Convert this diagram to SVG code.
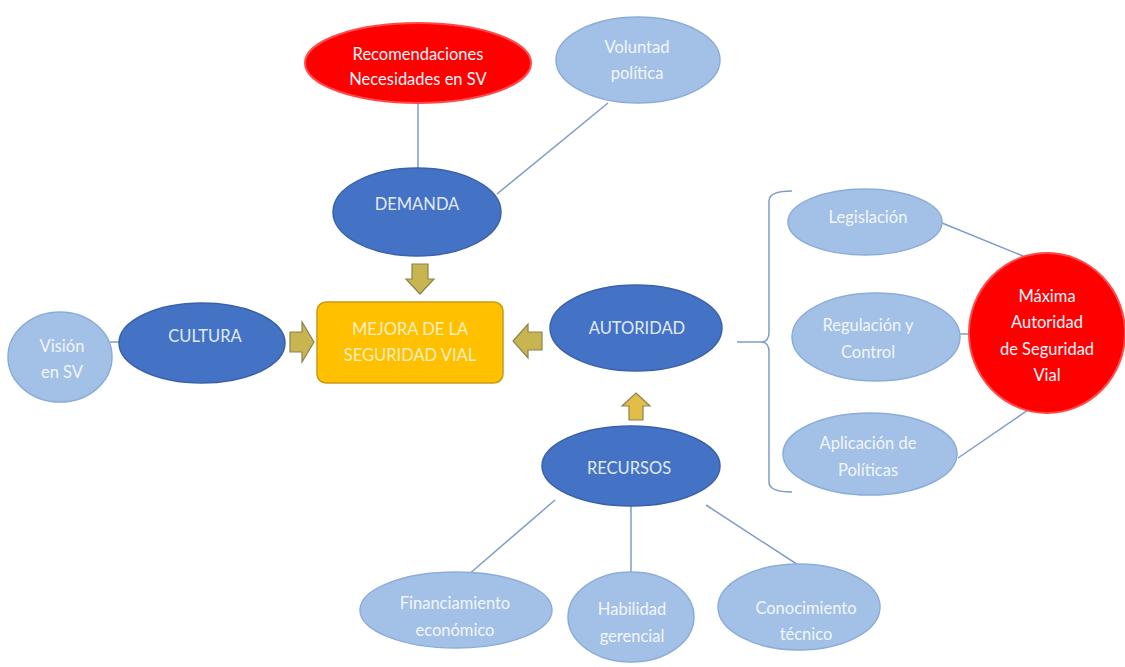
<svg xmlns="http://www.w3.org/2000/svg" width="1125" height="667" viewBox="0 0 1125 667">
<style>
text{font-family:"Lato","Liberation Sans",sans-serif;font-size:16.5px;text-anchor:middle;dominant-baseline:central}
.dark{fill:#4472C4;stroke:#3A62AA;stroke-width:1.5}
.light{fill:#A3C1E6;stroke:#8BADD9;stroke-width:1.5}
.red{fill:#FF0000;stroke:#FF4A4A;stroke-width:2}
.tw{fill:#E0EAF6}
.tl{fill:#F2F6FC}
.ln{stroke:#7F9CC8;stroke-width:1.5;fill:none}
.arr{fill:#C9B452;stroke:#8C8250;stroke-width:1.2}
</style>
<rect width="1125" height="667" fill="#FFFFFF"/>
<g id="connectors">
<line class="ln" x1="418" y1="103" x2="418" y2="168"/>
<line class="ln" x1="608" y1="103" x2="497" y2="194"/>
<line class="ln" x1="110" y1="342" x2="122" y2="342"/>
<line class="ln" x1="555" y1="500" x2="468" y2="575"/>
<line class="ln" x1="631" y1="506" x2="631" y2="572"/>
<line class="ln" x1="706" y1="505" x2="815" y2="576"/>
<line class="ln" x1="942" y1="223" x2="1023" y2="256"/>
<line class="ln" x1="959" y1="334" x2="969" y2="334"/>
<line class="ln" x1="958" y1="458" x2="1028" y2="410"/>
<path class="ln" d="M792,191 Q769,191 769,201 L769,332 Q769,342 761,342 Q769,342 769,352 L769,482 Q769,492 792,492"/>
<line class="ln" x1="737" y1="342" x2="761" y2="342"/>
<polygon class="arr" points="412,264 428,264 428,279 434,279 420,294 406,279 412,279"/>
<polygon class="arr" points="290,332 302,332 302,322 314,342 302,362 302,352 290,352"/>
<polygon class="arr" points="542,332 528,332 528,324 513,341 528,358 528,350 542,350"/>
<polygon class="arr" points="636,393 650,406 643,406 643,420 629,420 629,406 622,406" style="fill:#E2BE48"/>
</g>
<g id="recomendaciones">
<ellipse class="red" cx="418" cy="63" rx="113" ry="40"/>
<text class="tl" x="418" y="54">Recomendaciones</text>
<text class="tl" x="418" y="79">Necesidades en SV</text>
</g>
<g id="voluntad">
<ellipse class="light" cx="638" cy="60" rx="82" ry="43"/>
<text class="tl" x="637" y="47">Voluntad</text>
<text class="tl" x="637" y="73">política</text>
</g>
<g id="demanda">
<ellipse class="dark" cx="417" cy="212" rx="84" ry="44"/>
<text class="tw" x="417" y="204">DEMANDA</text>
</g>
<g id="mejora">
<rect x="317" y="302" width="186" height="81" rx="9" fill="#FFC000" stroke="#C99A10" stroke-width="1.5"/>
<text x="410" y="329" fill="#FCEFC0">MEJORA DE LA</text>
<text x="410" y="355" fill="#FCEFC0">SEGURIDAD VIAL</text>
</g>
<g id="vision">
<ellipse class="light" cx="60" cy="357" rx="52" ry="45"/>
<text class="tl" x="62" y="346">Visión</text>
<text class="tl" x="62" y="372">en SV</text>
</g>
<g id="cultura">
<ellipse class="dark" cx="202" cy="343" rx="83" ry="40"/>
<text class="tw" x="205" y="336">CULTURA</text>
</g>
<g id="autoridad">
<ellipse class="dark" cx="636" cy="328" rx="86" ry="43"/>
<text class="tw" x="637" y="328">AUTORIDAD</text>
</g>
<g id="recursos">
<ellipse class="dark" cx="631" cy="466" rx="89" ry="40"/>
<text class="tw" x="629" y="468">RECURSOS</text>
</g>
<g id="financiamiento">
<ellipse class="light" cx="456" cy="610" rx="96" ry="38"/>
<text class="tl" x="455" y="603">Financiamiento</text>
<text class="tl" x="455" y="630">económico</text>
</g>
<g id="habilidad">
<ellipse class="light" cx="631" cy="617" rx="63" ry="45"/>
<text class="tl" x="632" y="609">Habilidad</text>
<text class="tl" x="632" y="636">gerencial</text>
</g>
<g id="conocimiento">
<ellipse class="light" cx="799" cy="607" rx="81" ry="43"/>
<text class="tl" x="806" y="608">Conocimiento</text>
<text class="tl" x="806" y="634">técnico</text>
</g>
<g id="legislacion">
<ellipse class="light" cx="865" cy="222" rx="77" ry="33"/>
<text class="tl" x="868" y="217">Legislación</text>
</g>
<g id="regulacion">
<ellipse class="light" cx="876" cy="337" rx="84" ry="44"/>
<text class="tl" x="868" y="325">Regulación y</text>
<text class="tl" x="868" y="352">Control</text>
</g>
<g id="aplicacion">
<ellipse class="light" cx="870" cy="454" rx="87" ry="41"/>
<text class="tl" x="868" y="443">Aplicación de</text>
<text class="tl" x="868" y="470">Políticas</text>
</g>
<g id="maxima">
<ellipse class="red" cx="1047" cy="333" rx="78" ry="80"/>
<text class="tl" x="1047" y="296">Máxima</text>
<text class="tl" x="1047" y="322">Autoridad</text>
<text class="tl" x="1047" y="349">de Seguridad</text>
<text class="tl" x="1047" y="375">Vial</text>
</g>
</svg>
